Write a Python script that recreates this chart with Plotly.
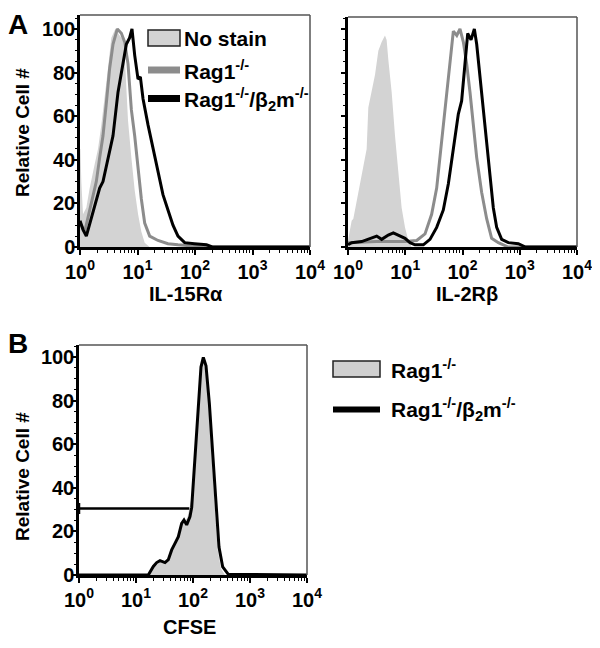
import numpy as np
import plotly.graph_objects as go

# ---------------- data (x in log10 fluorescence units, y = relative cell #) ----------------
# Panel A, IL-15Ralpha
il15_nostain_lx = [0.0, 0.006, 0.023, 0.052, 0.11, 0.168, 0.255, 0.313, 0.371, 0.429, 0.487, 0.545,
                   0.614, 0.69, 0.748, 0.777, 0.806, 0.835, 0.893, 0.951, 1.01, 1.067, 1.125, 1.21, 4.0]
il15_nostain_y = [45, 45, 30, 15, 18, 27, 38, 45, 56, 68, 82, 96,
                  100, 97, 95, 88, 75, 58, 41, 26, 15, 7, 2, 0, 0]

il15_rag_lx = [0.0, 0.023, 0.081, 0.197, 0.284, 0.342, 0.4, 0.458, 0.516, 0.574, 0.649, 0.719, 0.777,
               0.835, 0.893, 0.951, 1.01, 1.067, 1.125, 1.212, 1.356, 1.53, 1.704, 1.9, 2.2, 4.0]
il15_rag_y = [10, 10, 7, 20, 30, 41, 51, 66, 82, 93, 100, 98, 94,
              84, 63, 51, 35, 22, 11, 5, 3, 1.5, 1, 0.5, 0, 0]

il15_ragb2m_lx = [0.0, 0.012, 0.052, 0.11, 0.226, 0.342, 0.4, 0.487, 0.574, 0.661, 0.748, 0.806, 0.864,
                  0.904, 0.951, 1.009, 1.05, 1.096, 1.183, 1.27, 1.357, 1.443, 1.53, 1.617, 1.704, 1.82,
                  1.99, 2.2, 2.3, 4.0]
il15_ragb2m_y = [12, 11, 8, 5, 16, 27, 30, 41, 51, 71, 85, 93, 96,
                 100, 88, 77, 78, 68, 56, 45, 35, 24, 17, 10, 5, 2,
                 1.5, 1, 0, 0]

# Panel A, IL-2Rbeta
il2_nostain_lx = [0.0, 0.03, 0.064, 0.093, 0.18, 0.268, 0.326, 0.355, 0.413, 0.472, 0.53, 0.588, 0.646,
                  0.675, 0.704, 0.763, 0.821, 0.879, 0.937, 0.996, 1.054, 1.112, 4.0]
il2_nostain_y = [3, 8, 12, 13, 25, 36, 45, 64, 71, 79, 90, 94, 97,
                 95, 86, 71, 51, 33, 18, 9, 3, 0, 0]

il2_rag_lx = [0.0, 0.5, 1.0, 1.2, 1.345, 1.461, 1.549, 1.607, 1.665, 1.723, 1.782, 1.84, 1.9, 1.956,
              2.015, 2.073, 2.131, 2.19, 2.248, 2.335, 2.422, 2.509, 2.626, 2.8, 4.0]
il2_rag_y = [2, 2.5, 2.5, 3, 6, 15, 27, 41, 56, 71, 86, 99, 97, 100,
             94, 84, 71, 56, 41, 25, 13, 4, 2, 0, 0]

il2_ragb2m_lx = [0.0, 0.064, 0.239, 0.413, 0.501, 0.588, 0.704, 0.792, 0.879, 0.996, 1.083, 1.17, 1.316,
                 1.432, 1.549, 1.665, 1.753, 1.84, 1.927, 1.985, 2.015, 2.056, 2.091, 2.149, 2.207,
                 2.248, 2.306, 2.364, 2.422, 2.48, 2.538, 2.597, 2.684, 2.8, 2.975, 3.1, 4.0]
il2_ragb2m_y = [1, 2, 2.5, 4, 5, 3.5, 5.5, 6.5, 5.5, 4, 2, 1, 1,
                3.5, 9, 17, 29, 45, 61, 67, 76, 86, 98, 95, 100,
                93, 79, 64, 48, 33, 18, 9, 3.5, 2, 1.5, 0, 0]

# Panel B, CFSE
cfse_rag_lx = [0.0, 1.2, 1.3, 1.42, 1.5, 1.57, 1.63, 1.7, 1.76, 1.82, 1.9, 1.98, 2.04, 2.1, 2.15, 2.18,
               2.22, 2.27, 2.33, 2.38, 2.43, 2.49, 2.56, 4.0]
cfse_rag_y = [0, 0, 3, 6, 5.5, 7, 11, 15, 19, 24, 26, 36, 58, 80, 96, 98,
              94, 78, 52, 30, 12, 3, 0, 0]

cfse_ragb2m_lx = [0.0, 1.216, 1.304, 1.363, 1.421, 1.509, 1.567, 1.626, 1.684, 1.743, 1.801, 1.842, 1.889,
                  1.947, 1.977, 2.035, 2.094, 2.14, 2.181, 2.228, 2.287, 2.345, 2.404, 2.456, 2.521,
                  2.62, 4.0]
cfse_ragb2m_y = [0, 0, 3.9, 5.7, 6.6, 5.7, 7, 11.5, 14.5, 17.6, 23.7, 25.2, 23,
                 26.8, 31, 55.7, 78.6, 95.4, 99.8, 96, 78.6, 55.7, 32.8, 12.8, 3.7,
                 0.3, 0]

# gate marker on CFSE histogram
gate_lx = [0.0, 0.0, 0.0, 1.935]
gate_y = [28, 33, 30.5, 30.5]

# ticks / labels
x_tickvals = [1, 10, 100, 1000, 10000]
x_ticktext = ["10<sup>0</sup>", "10<sup>1</sup>", "10<sup>2</sup>", "10<sup>3</sup>", "10<sup>4</sup>"]
y_tickvals = [0, 20, 40, 60, 80, 100]

lab_nostain = "No stain"
lab_rag = "Rag1<sup>-/-</sup>"
lab_ragb2m = "Rag1<sup>-/-</sup>/β<sub>2</sub>m<sup>-/-</sup>"

# ---------------- styles ----------------
# the page body adds an 8px margin; the figure is sized to fit inside the 600x648 window
OX, OY = 8, 8
W, H = 592, 640
FONT = "Liberation Sans, Arial, Helvetica, sans-serif"
FILL_A = "#d3d3d3"
FILL_B = "#d0d0d0"
GRAY = "#8c8c8c"
BLACK = "#000000"


def X(v):
    return 10 ** np.array(v, dtype=float)


def sx(px):
    return (px - OX) / W


def sy(py):
    return 1 - (py - OY) / H


fig = go.Figure()

# A1
fig.add_trace(go.Scatter(x=X(il15_nostain_lx), y=il15_nostain_y, mode="lines", fill="tozeroy",
                         fillcolor=FILL_A, line=dict(width=0, color=FILL_A), xaxis="x", yaxis="y"))
fig.add_trace(go.Scatter(x=X(il15_rag_lx), y=il15_rag_y, mode="lines",
                         line=dict(width=3, color=GRAY), xaxis="x", yaxis="y"))
fig.add_trace(go.Scatter(x=X(il15_ragb2m_lx), y=il15_ragb2m_y, mode="lines",
                         line=dict(width=3, color=BLACK), xaxis="x", yaxis="y"))
# A2
fig.add_trace(go.Scatter(x=X(il2_nostain_lx), y=il2_nostain_y, mode="lines", fill="tozeroy",
                         fillcolor=FILL_A, line=dict(width=0, color=FILL_A), xaxis="x2", yaxis="y2"))
fig.add_trace(go.Scatter(x=X(il2_rag_lx), y=il2_rag_y, mode="lines",
                         line=dict(width=3, color=GRAY), xaxis="x2", yaxis="y2"))
fig.add_trace(go.Scatter(x=X(il2_ragb2m_lx), y=il2_ragb2m_y, mode="lines",
                         line=dict(width=3, color=BLACK), xaxis="x2", yaxis="y2"))
# B
fig.add_trace(go.Scatter(x=X(cfse_rag_lx), y=cfse_rag_y, mode="lines", fill="tozeroy",
                         fillcolor=FILL_B, line=dict(width=0, color=FILL_B), xaxis="x3", yaxis="y3"))
fig.add_trace(go.Scatter(x=X(cfse_ragb2m_lx), y=cfse_ragb2m_y, mode="lines",
                         line=dict(width=3, color=BLACK), xaxis="x3", yaxis="y3"))
fig.add_trace(go.Scatter(x=X(gate_lx), y=gate_y, mode="lines",
                         line=dict(width=2.5, color=BLACK), xaxis="x3", yaxis="y3"))


def px_dom(a, b):
    return [sx(a), sx(b)]


def py_dom(top, bottom):
    return [sy(bottom), sy(top)]


xtickfont = dict(family=FONT, size=20, color="black", weight="bold")
ytickfont = dict(family=FONT, size=20, color="black", weight="bold")


def xaxis(dom, anchor):
    return dict(type="log", domain=dom, anchor=anchor, range=[0, 4], tickvals=x_tickvals,
                ticktext=x_ticktext, ticks="outside", ticklen=5, tickwidth=2, tickcolor="black",
                showline=True, linewidth=2.5, linecolor="black", showgrid=False, zeroline=False,
                tickfont=xtickfont, fixedrange=True, automargin=False,
                minor=dict(ticks="outside", ticklen=3, tickwidth=1, tickcolor="black", dtick="D1",
                           showgrid=False))


def yaxis(dom, anchor, rmax, labels=True):
    return dict(domain=dom, anchor=anchor, range=[0, rmax], tickvals=y_tickvals,
                ticks="outside", ticklen=4, tickwidth=2, tickcolor="black",
                showline=True, linewidth=2.5, linecolor="black", showgrid=False, zeroline=False,
                showticklabels=labels, tickfont=ytickfont, fixedrange=True, automargin=False,
                ticklabelstandoff=-6,
                minor=dict(ticks="outside", ticklen=2.5, tickwidth=1, tickcolor="black", dtick=5,
                           showgrid=False))


fig.update_layout(
    width=W, height=H, margin=dict(l=0, r=0, t=0, b=0, autoexpand=False),
    paper_bgcolor="white", plot_bgcolor="white", showlegend=False,
    xaxis=xaxis(px_dom(80, 310), "y"),
    yaxis=yaxis(py_dom(15, 247), "x", 106.4),
    xaxis2=xaxis(px_dom(348, 577), "y2"),
    yaxis2=yaxis(py_dom(17, 247), "x2", 105.5, labels=False),
    xaxis3=xaxis(px_dom(79, 307), "y3"),
    yaxis3=yaxis(py_dom(345, 575), "x3", 105.5),
)

shapes = []
# thinner top/right frame
for xr, yr in [("x", "y"), ("x2", "y2"), ("x3", "y3")]:
    shapes.append(dict(type="line", xref=f"{xr} domain", yref=f"{yr} domain", x0=0, x1=1, y0=1, y1=1,
                       line=dict(color="#555555", width=1.5)))
    shapes.append(dict(type="line", xref=f"{xr} domain", yref=f"{yr} domain", x0=1, x1=1, y0=0, y1=1,
                       line=dict(color="#555555", width=1.5)))


def rect(x0, y0, x1, y1, fill, lc, lw):
    shapes.append(dict(type="rect", xref="paper", yref="paper", x0=sx(x0), x1=sx(x1),
                       y0=sy(y1), y1=sy(y0), fillcolor=fill, line=dict(color=lc, width=lw)))


def hline(x0, x1, y, color, lw):
    shapes.append(dict(type="line", xref="paper", yref="paper", x0=sx(x0), x1=sx(x1),
                       y0=sy(y), y1=sy(y), line=dict(color=color, width=lw)))


# legend A
rect(148, 30, 180, 46, FILL_A, "#222222", 1.5)
hline(148, 180, 70, GRAY, 7)
hline(148, 180, 98.5, BLACK, 7)
# legend B
rect(333, 361, 380, 377, FILL_B, "#222222", 1.5)
hline(333, 380, 409.5, BLACK, 6)

fig.update_layout(shapes=shapes)

ann = []


def text(x, y, s, size, xanchor="left", angle=0):
    ann.append(dict(xref="paper", yref="paper", x=sx(x), y=sy(y), text=s, showarrow=False,
                    xanchor=xanchor, yanchor="middle", textangle=angle,
                    font=dict(family=FONT, size=size, color="black", weight="bold")))


leg = 21
text(182, 38, lab_nostain, leg)
text(182, 70, lab_rag, leg)
text(182, 99, lab_ragb2m, leg)
text(389, 369, lab_rag, leg)
text(389, 409, lab_ragb2m, leg)

text(18, 24, "A", 28, "center")
text(18, 343, "B", 28, "center")

text(22, 133, "Relative Cell #", 19, "center", -90)
text(22, 477, "Relative Cell #", 19, "center", -90)

text(186, 294, "IL-15Rα", 20, "center")
text(467, 294, "IL-2Rβ", 20, "center")
text(189, 627, "CFSE", 20, "center")

fig.update_layout(annotations=ann)

fig.write_html("out.html")
